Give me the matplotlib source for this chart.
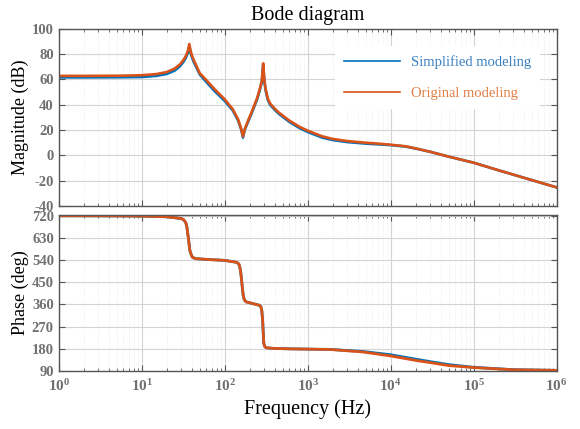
import matplotlib
matplotlib.use("Agg")
import matplotlib.pyplot as plt
from matplotlib.ticker import LogLocator, NullFormatter

plt.rcParams['font.family'] = ['Liberation Serif', 'DejaVu Serif']
plt.rcParams['mathtext.fontset'] = 'custom'
plt.rcParams['mathtext.rm'] = 'Liberation Serif:bold'
plt.rcParams['mathtext.bf'] = 'Liberation Serif:bold'
plt.rcParams['mathtext.it'] = 'Liberation Serif:bold'
plt.rcParams['mathtext.default'] = 'rm'
plt.rcParams['axes.unicode_minus'] = False

# 幅值数据 (Hz, dB)
freq_mag = [1, 2, 5, 10, 15, 20, 25, 29, 32, 34, 36, 37.5, 39, 41, 44, 50, 60, 75,
            100, 125, 145, 158, 166, 175, 190, 215, 245, 265, 280, 291, 300, 310, 330,
            352, 400, 450, 600, 800, 1000, 1500, 2000, 3000, 5000, 8000, 1e4, 1.5e4,
            2e4, 3e4, 5e4, 1e5, 2e5, 5e5, 1e6]
mag_original = [62.8, 62.8, 62.9, 63.3, 64.2, 65.8, 68.6, 72.0, 75.5, 78.5, 82.5, 88.0,
                82.0, 77.5, 73.0, 65.0, 59.5, 52.5, 44.3, 36.5, 28.5, 21.0, 15.0, 21.0,
                27.0, 35.5, 45.0, 52.5, 59.0, 72.7, 60.0, 53.0, 45.0, 41.0, 37.0, 33.8,
                27.5, 22.5, 19.5, 15.0, 13.0, 11.3, 10.0, 9.0, 8.4, 7.2, 5.5, 2.8, -1.0,
                -5.8, -11.8, -19.5, -25.3]
mag_simplified = [61.6, 61.6, 61.7, 61.9, 62.8, 64.3, 67.0, 70.5, 74.0, 77.0, 81.0, 86.0,
                  80.5, 76.0, 71.5, 64.0, 58.0, 51.0, 43.0, 35.5, 27.5, 20.5, 14.0, 20.5,
                  26.0, 34.5, 44.0, 51.5, 58.0, 71.5, 59.0, 52.0, 44.0, 40.0, 36.0, 32.8,
                  26.5, 21.5, 18.5, 14.0, 12.1, 10.5, 9.3, 8.5, 8.1, 7.0, 5.4, 2.8, -1.0,
                  -5.8, -11.8, -19.5, -25.3]

# 相位数据 (Hz, deg)
freq_ph = [1, 5, 10, 20, 30, 32, 34, 35, 36.5, 38, 39.5, 41, 45, 60, 100, 140, 148,
           152, 156, 159, 163, 167, 172, 180, 221, 260, 272, 280, 287, 292, 296, 305,
           321, 400, 600, 1400, 1850, 4700, 1e4, 2e4, 3e4, 5e4, 1e5, 3e5, 1e6]
ph_original = [720, 719.5, 718.5, 716, 709, 704, 692, 675, 630, 580, 562, 551, 546, 543,
               539, 531, 524, 513, 490, 466, 430, 398, 380, 371, 363, 357, 352, 335, 290,
               240, 202, 188, 184, 181.5, 180, 178, 177.5, 167, 151, 133, 124, 112, 104,
               95, 92.5]
ph_simplified = [720, 719.5, 718.5, 716, 709, 704, 692, 675, 630, 580, 562, 551, 546, 543,
                 539, 531, 524, 513, 490, 466, 430, 398, 380, 371, 363, 357, 352, 335, 290,
                 240, 202, 188, 184, 181.5, 180, 178, 177.8, 169, 156, 138, 128, 116, 105,
                 95.5, 92.5]

blue = '#0072BD'
orange = '#D95319'
tick_gray = '#707070'
spine_gray = '#555555'

fig = plt.figure(figsize=(5.8, 4.29), dpi=100)
ax1 = fig.add_axes([0.1012, 0.5198, 0.8586, 0.4131])
ax2 = fig.add_axes([0.1012, 0.1352, 0.8586, 0.3641])

ax1.semilogx(freq_mag, mag_simplified, color=blue, lw=1.9, label='Simplified modeling')
ax1.semilogx(freq_mag, mag_original, color=orange, lw=1.9, label='Original modeling')
ax2.semilogx(freq_ph, ph_simplified, color=blue, lw=2.0)
ax2.semilogx(freq_ph, ph_original, color=orange, lw=2.0)

ax1.set_ylim(-40, 100)
ax1.set_yticks(range(-40, 101, 20))
ax2.set_ylim(90, 724)
ax2.set_yticks(range(90, 721, 90))

xt = [1, 10, 100, 1e3, 1e4, 1e5, 1e6]
for ax in (ax1, ax2):
    ax.set_xlim(1, 1e6)
    ax.set_xticks(xt)
    ax.xaxis.set_minor_locator(LogLocator(base=10, subs=range(2, 10), numticks=20))
    ax.xaxis.set_minor_formatter(NullFormatter())
    ax.grid(True, which='major', color='#d3d3d3', lw=0.8)
    ax.grid(True, which='minor', axis='x', color='#e4e4e4', lw=0.5, ls=':')
    ax.tick_params(which='both', direction='in', top=True, right=True, colors=spine_gray,
                   labelcolor=tick_gray, labelsize=10.5)
    ax.tick_params(which='major', length=4)
    ax.tick_params(which='minor', length=2.5)
    for lbl in ax.get_yticklabels():
        lbl.set_fontweight('bold')
    for sp in ax.spines.values():
        sp.set_color(spine_gray)
        sp.set_linewidth(1.0)
    ax.set_axisbelow(True)

ax1.set_xticklabels([])
ax2.set_xticklabels([r'$10^{%d}$' % i for i in range(7)])
ax2.tick_params(axis='x', pad=5, labelsize=11)

ax1.set_title('Bode diagram', fontsize=14.5, pad=6)
ax1.set_ylabel('Magnitude (dB)', fontsize=13, labelpad=2)
ax2.set_ylabel('Phase (deg)', fontsize=13, labelpad=2)
ax2.set_xlabel('Frequency (Hz)', fontsize=14.5, labelpad=4)

leg = ax1.legend(loc='center', bbox_to_anchor=(0.76, 0.725), fontsize=10.5,
                 labelcolor='linecolor', handlelength=3.9, handletextpad=0.7,
                 labelspacing=1.25, fancybox=False, framealpha=1.0, borderpad=0.6)
leg.get_frame().set_edgecolor('none')
for line in leg.get_lines():
    line.set_linewidth(1.2)
leg.get_texts()[0].set_color('#3a7fc0')
leg.get_texts()[1].set_color('#e07e45')

fig.savefig('out.png', dpi=100)
